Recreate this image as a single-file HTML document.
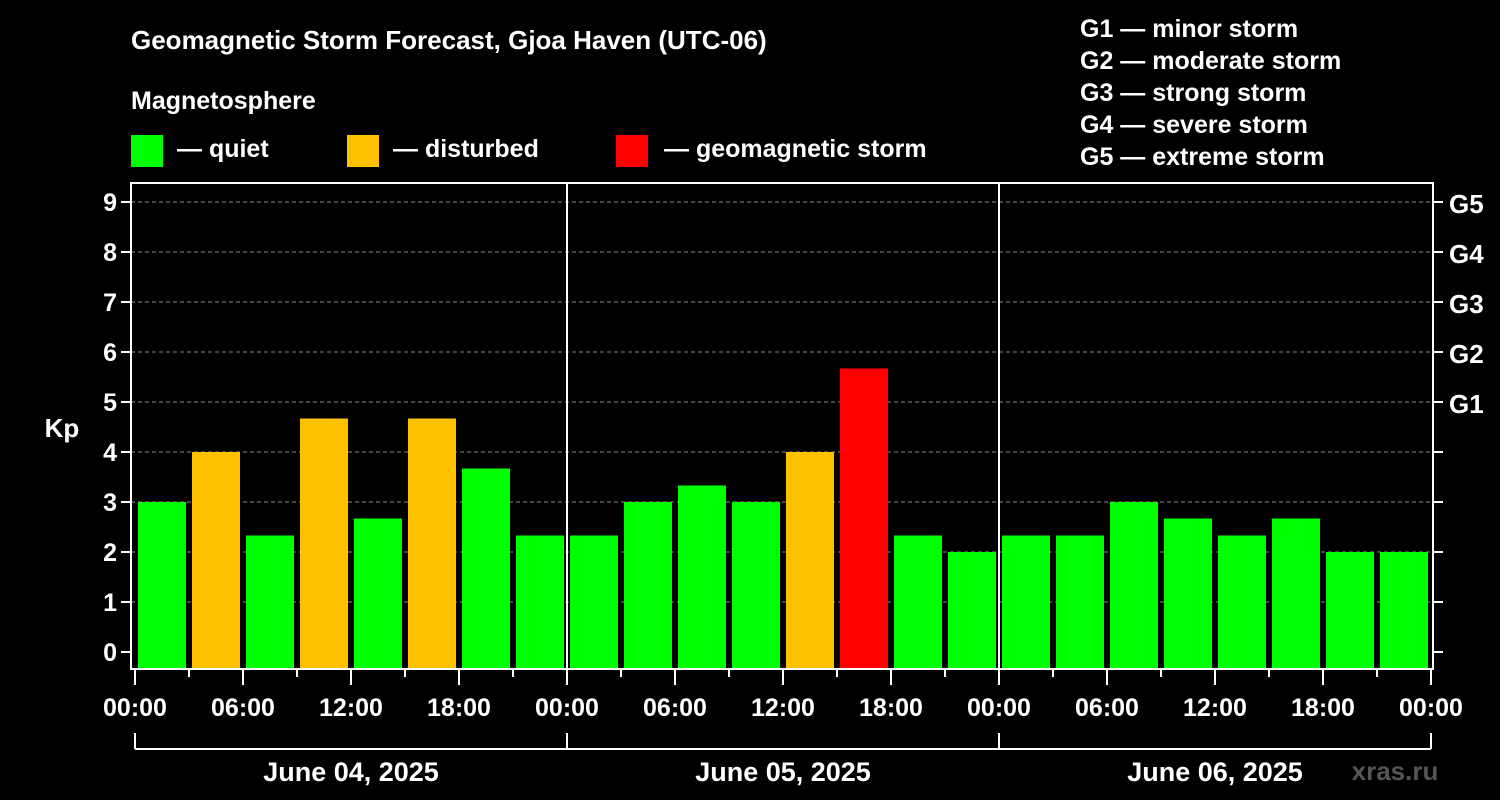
<!DOCTYPE html>
<html><head><meta charset="utf-8"><style>
body{margin:0;background:#000;}
svg{display:block;font-family:"Liberation Sans",Arial,sans-serif;font-weight:bold;}
</style></head><body>
<svg id="c" width="1500" height="800" xmlns="http://www.w3.org/2000/svg">
<rect width="1500" height="800" fill="#000"/>
<text x="131" y="49" fill="#fff" font-size="26">Geomagnetic Storm Forecast, Gjoa Haven (UTC-06)</text>
<text x="131" y="109" fill="#fff" font-size="25">Magnetosphere</text>
<g><rect x="131" y="135" width="32" height="32" fill="#00ff00"/><text x="177" y="157" fill="#fff" font-size="25">— quiet</text></g>
<g><rect x="347" y="135" width="32" height="32" fill="#ffc000"/><text x="393" y="157" fill="#fff" font-size="25">— disturbed</text></g>
<g><rect x="616" y="135" width="32" height="32" fill="#ff0000"/><text x="664" y="157" fill="#fff" font-size="25">— geomagnetic storm</text></g>
<g fill="#fff" font-size="25">
<text x="1080" y="37">G1 — minor storm</text>
<text x="1080" y="69">G2 — moderate storm</text>
<text x="1080" y="101">G3 — strong storm</text>
<text x="1080" y="133">G4 — severe storm</text>
<text x="1080" y="165">G5 — extreme storm</text>
</g>
<text x="62" y="437" fill="#fff" font-size="26" text-anchor="middle">Kp</text>
<g id="grid"></g><g id="bars"></g><g id="axes"></g>
<text x="1395" y="780" fill="#555" font-size="26" text-anchor="middle">xras.ru</text>
</svg>
<script>
const kpValues=[3,4,2.33,4.67,2.67,4.67,3.67,2.33, 2.33,3,3.33,3,4,5.67,2.33,2, 2.33,2.33,3,2.67,2.33,2.67,2,2];
const yTicks=[0,1,2,3,4,5,6,7,8,9];
const gLabels=["G1","G2","G3","G4","G5"];
const gLevels=[5,6,7,8,9];
const xLabels=["00:00","06:00","12:00","18:00","00:00","06:00","12:00","18:00","00:00","06:00","12:00","18:00","00:00"];
const dayLabels=["June 04, 2025","June 05, 2025","June 06, 2025"];
const NS="http://www.w3.org/2000/svg";
const x0=135,slot=54,L=131,R=1433,T=183,B=669;
const y=k=>652-50*k;
const xs=i=>x0+slot*i;
function mk(tag,attrs,parent,text){const e=document.createElementNS(NS,tag);for(const k in attrs)e.setAttribute(k,attrs[k]);if(text!==undefined)e.textContent=text;parent.appendChild(e);return e;}
const grid=document.getElementById('grid'),bars=document.getElementById('bars'),axes=document.getElementById('axes');
yTicks.forEach(k=>{
 if(k>0){const g=mk('line',{x1:L,x2:R,y1:y(k),y2:y(k),stroke:'#888','stroke-dasharray':'4,3','stroke-width':1},grid);
 
 }
 const t=mk('line',{x1:L-10,x2:L,y1:y(k),y2:y(k),stroke:'#fff','stroke-width':2},axes);
 
 
 const t2=mk('line',{x1:R,x2:R+10,y1:y(k),y2:y(k),stroke:'#fff','stroke-width':2},axes);
 
 
 const l=mk('text',{x:L-14,y:y(k)+9,fill:'#fff','font-size':25,'text-anchor':'end'},axes,String(k));
 
 
});
gLevels.forEach((k,i)=>{
 const l=mk('text',{x:R+16,y:y(k)+11,fill:'#fff','font-size':26},axes,gLabels[i]);
 
 
});
kpValues.forEach((v,i)=>{
 const c=v>=5?'#ff0000':(v>=4?'#ffc000':'#00ff00');
 const r=mk('rect',{x:xs(i)+3,y:y(v),width:48,height:B-1-y(v),fill:c},bars);
 
 
});
// day separators
[1,2].forEach(d=>{const l=mk('line',{x1:xs(d*8),x2:xs(d*8),y1:T,y2:B,stroke:'#fff','stroke-width':2},axes);
 
 });
const fr=mk('rect',{x:L,y:T,width:R-L,height:B-T,fill:'none',stroke:'#fff','stroke-width':2},axes);


for(let i=0;i<=24;i++){
 const major=i%2===0;
 const t=mk('line',{x1:xs(i),x2:xs(i),y1:B,y2:major?685:677,stroke:'#fff','stroke-width':2},axes);
 
 
 if(major){const l=mk('text',{x:xs(i),y:716,fill:'#fff','font-size':25,'text-anchor':'middle'},axes,xLabels[i/2]);
 
 }
}
const dl=mk('line',{x1:xs(0),x2:xs(24),y1:749,y2:749,stroke:'#fff','stroke-width':2},axes);


for(let d=0;d<=3;d++){const l=mk('line',{x1:xs(d*8),x2:xs(d*8),y1:733,y2:749,stroke:'#fff','stroke-width':2},axes);
 
 }
dayLabels.forEach((s,d)=>{const l=mk('text',{x:xs(d*8+4),y:781,fill:'#fff','font-size':27,'text-anchor':'middle'},axes,s);
 
 });
</script>
</body></html>
